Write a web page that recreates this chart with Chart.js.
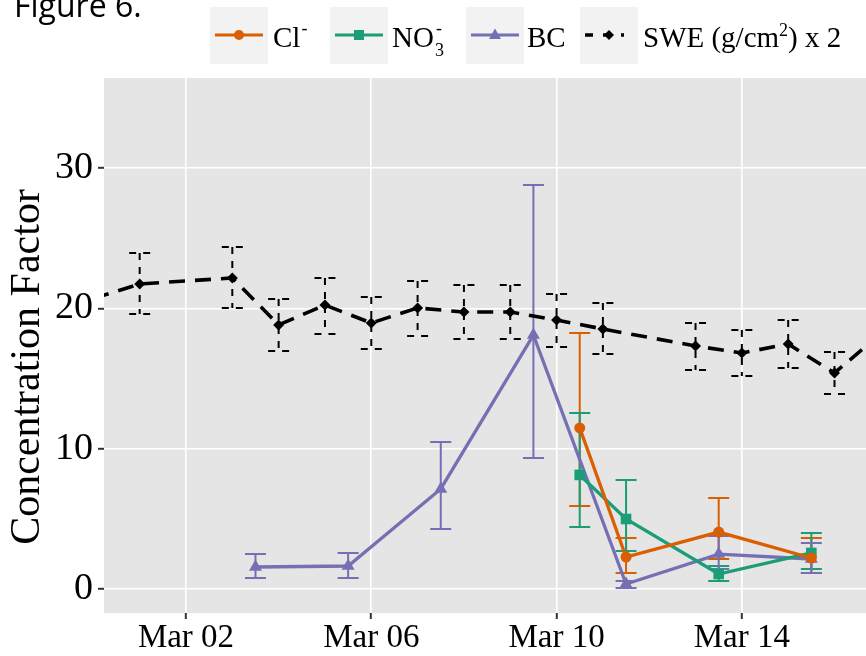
<!DOCTYPE html>
<html>
<head>
<meta charset="utf-8">
<script src="https://cdn.jsdelivr.net/npm/chart.js@4/dist/chart.umd.min.js"></script>
<style>
html, body { margin: 0; padding: 0; background: #fff; }
#wrap { width: 866px; height: 656px; position: relative; }
</style>
</head>
<body>
<div id="wrap"><canvas id="chart" width="866" height="656"></canvas></div>
<script>
// x values are March dates (1 = Mar 01), snow chemistry sampled at mid-day
const tickDays = [2, 6, 10, 14];
const yTicks = [0, 10, 20, 30];

const sweDays = [0, 1, 3, 4, 5, 6, 7, 8, 9, 10, 11, 13, 14, 15, 16, 17];
const sweVals = [20.7, 21.74, 22.17, 18.82, 20.24, 18.96, 20.03, 19.74, 19.74, 19.17, 18.53, 17.32, 16.82, 17.46, 15.40, 18.2];
const sweHi = [null, 23.95, 24.38, 20.67, 22.17, 20.81, 21.95, 21.67, 21.67, 21.03, 20.38, 18.96, 18.46, 19.17, 16.89, null];
const sweLo = [null, 19.60, 20.03, 16.96, 18.18, 17.11, 18.03, 17.82, 17.82, 17.25, 16.75, 15.61, 15.18, 15.75, 13.90, null];

const bcDays = [3.5, 5.5, 7.5, 9.5, 11.5, 13.5, 15.5];
const bcVals = [1.57, 1.64, 7.13, 18.10, 0.36, 2.49, 2.14];
const bcHi = [2.49, 2.57, 10.48, 28.80, 0.57, 3.78, 3.28];
const bcLo = [0.78, 0.78, 4.28, 9.34, 0.07, 1.43, 1.14];

const chemDays = [10.5, 11.5, 13.5, 15.5];
const clVals = [11.48, 2.28, 4.06, 2.21];
const clHi = [18.25, 3.64, 6.49, 3.64];
const clLo = [5.92, 1.14, 2.14, 1.14];
const no3Vals = [8.13, 4.99, 1.07, 2.57];
const no3Hi = [12.54, 7.77, 1.64, 3.99];
const no3Lo = [4.42, 2.71, 0.57, 1.43];

const ORANGE = '#D95F02', GREEN = '#1B9E77', PURPLE = '#7570B3';
const SERIF = '"Liberation Serif", "Times New Roman", serif';

const pts = (xs, ys) => xs.map((x, i) => ({ x: x, y: ys[i] }));

// panel background like ggplot
const panelBg = {
  id: 'panelBg',
  beforeDraw(chart) {
    const { ctx, chartArea: a } = chart;
    ctx.save();
    ctx.fillStyle = '#E5E5E5';
    ctx.fillRect(a.left, a.top, a.right - a.left, a.bottom - a.top);
    ctx.restore();
  }
};

// vertical error bars with caps, read from dataset.errHi / errLo
const errorBars = {
  id: 'errorBars',
  beforeDatasetsDraw(chart) {
    const { ctx, chartArea: a, scales } = chart;
    ctx.save();
    ctx.beginPath();
    ctx.rect(a.left, a.top, a.right - a.left, a.bottom - a.top);
    ctx.clip();
    chart.data.datasets.forEach(ds => {
      if (!ds.errHi) return;
      ctx.strokeStyle = ds.borderColor;
      ctx.lineWidth = 2;
      ctx.setLineDash(ds.errDash || []);
      ds.data.forEach((p, i) => {
        const hi = ds.errHi[i], lo = ds.errLo[i];
        if (hi == null) return;
        const x = scales.x.getPixelForValue(p.x);
        const y1 = scales.y.getPixelForValue(hi);
        const y2 = scales.y.getPixelForValue(lo);
        const w = 10.5;
        ctx.beginPath();
        ctx.moveTo(x, y1); ctx.lineTo(x, y2);
        ctx.moveTo(x - w, y1); ctx.lineTo(x + w, y1);
        ctx.moveTo(x - w, y2); ctx.lineTo(x + w, y2);
        ctx.stroke();
      });
    });
    ctx.restore();
  }
};

function drawMarker(ctx, style, x, y, color) {
  ctx.fillStyle = color;
  ctx.beginPath();
  if (style === 'circle') {
    ctx.arc(x, y, 5, 0, Math.PI * 2);
  } else if (style === 'rect') {
    ctx.rect(x - 5, y - 5, 10, 10);
  } else if (style === 'triangle') {
    ctx.moveTo(x, y - 6.5); ctx.lineTo(x + 6, y + 4); ctx.lineTo(x - 6, y + 4); ctx.closePath();
  } else {
    ctx.moveTo(x, y - 5); ctx.lineTo(x + 5, y); ctx.lineTo(x, y + 5); ctx.lineTo(x - 5, y); ctx.closePath();
  }
  ctx.fill();
}

// legend on top, figure label and the y axis title
const annotations = {
  id: 'annotations',
  afterDraw(chart) {
    const ctx = chart.ctx;
    ctx.save();
    ctx.fillStyle = '#000';
    ctx.font = '32px "Open Sans", sans-serif';
    ctx.textBaseline = 'alphabetic';
    ctx.fillText('Figure 6.', 14, 17);

    const keys = [
      { x: 210, color: ORANGE, style: 'circle' },
      { x: 330, color: GREEN, style: 'rect' },
      { x: 466, color: PURPLE, style: 'triangle' },
      { x: 580, color: '#000', style: 'diamond', dash: true }
    ];
    const ky = 35, base = 47;
    keys.forEach(k => {
      ctx.fillStyle = '#F2F2F2';
      ctx.fillRect(k.x, 7, 58, 57);
      ctx.strokeStyle = k.color;
      ctx.lineWidth = k.dash ? 3.5 : 3.2;
      ctx.setLineDash(k.dash ? [8, 10] : []);
      ctx.beginPath();
      ctx.moveTo(k.x + 5, ky);
      ctx.lineTo(k.x + (k.dash ? 44 : 53), ky);
      ctx.stroke();
      ctx.setLineDash([]);
      drawMarker(ctx, k.style, k.x + 29, ky, k.color);
    });

    const big = '29px ' + SERIF, small = '18px ' + SERIF;
    ctx.fillStyle = '#000';
    let x;
    // Cl-
    ctx.font = big; ctx.fillText('Cl', 273, base);
    x = 273 + ctx.measureText('Cl').width + 1;
    ctx.font = small; ctx.fillText('-', x, base - 13);
    // NO3-
    ctx.font = big; ctx.fillText('NO', 392, base);
    x = 392 + ctx.measureText('NO').width + 1;
    ctx.font = small; ctx.fillText('3', x, base + 9); ctx.fillText('-', x + 1, base - 13);
    // BC
    ctx.font = big; ctx.fillText('BC', 527, base);
    // SWE (g/cm2) x 2
    ctx.font = big; ctx.fillText('SWE (g/cm', 643, base);
    x = 643 + ctx.measureText('SWE (g/cm').width;
    ctx.font = small; ctx.fillText('2', x, base - 11);
    x += ctx.measureText('2').width;
    ctx.font = big; ctx.fillText(') x 2', x, base);

    // y axis title
    ctx.translate(28, 367);
    ctx.rotate(-Math.PI / 2);
    ctx.font = '42px ' + SERIF;
    ctx.textAlign = 'center';
    ctx.textBaseline = 'middle';
    ctx.fillText('Concentration Factor', 0, 0);
    ctx.restore();
  }
};

const ctx = document.getElementById('chart').getContext('2d');
new Chart(ctx, {
  type: 'line',
  data: {
    datasets: [
      {
        label: 'Cl-', data: pts(chemDays, clVals), errHi: clHi, errLo: clLo,
        borderColor: ORANGE, backgroundColor: ORANGE, borderWidth: 3.3,
        pointStyle: 'circle', pointRadius: 5.5, pointBorderWidth: 0
      },
      {
        label: 'NO3-', data: pts(chemDays, no3Vals), errHi: no3Hi, errLo: no3Lo,
        borderColor: GREEN, backgroundColor: GREEN, borderWidth: 3.3,
        pointStyle: 'rect', pointRadius: 7.5, pointBorderWidth: 0
      },
      {
        label: 'BC', data: pts(bcDays, bcVals), errHi: bcHi, errLo: bcLo,
        borderColor: PURPLE, backgroundColor: PURPLE, borderWidth: 3.3,
        pointStyle: 'triangle', pointRadius: 7.5, pointBorderWidth: 0
      },
      {
        label: 'SWE (g/cm2) x 2', data: pts(sweDays, sweVals), errHi: sweHi, errLo: sweLo,
        errDash: [7, 7],
        borderColor: '#000', backgroundColor: '#000', borderWidth: 3.6, borderDash: [16, 10],
        pointStyle: 'rectRot', pointRadius: 5.5, pointBorderWidth: 0
      }
    ]
  },
  options: {
    responsive: false,
    animation: false,
    events: [],
    layout: { autoPadding: false, padding: { top: 78, left: 0, right: 0, bottom: 0 } },
    plugins: { legend: { display: false }, tooltip: { enabled: false } },
    scales: {
      x: {
        type: 'linear', min: 0.23, max: 16.68,
        afterBuildTicks: s => { s.ticks = tickDays.map(v => ({ value: v })); },
        afterFit: s => { s.height = 43; s.paddingLeft = 0; s.paddingRight = 0; },
        grid: { color: '#FFFFFF', lineWidth: 1.6, tickColor: '#333', tickLength: 6, tickWidth: 2 },
        border: { display: false },
        ticks: {
          color: '#000', font: { family: SERIF, size: 33 }, padding: 0,
          maxRotation: 0, autoSkip: false,
          callback: v => 'Mar ' + String(v).padStart(2, '0')
        }
      },
      y: {
        min: -1.71, max: 36.42,
        afterBuildTicks: s => { s.ticks = yTicks.map(v => ({ value: v })); },
        afterFit: s => { s.width = 104; s.paddingTop = 0; s.paddingBottom = 0; },
        grid: { color: '#FFFFFF', lineWidth: 1.6, tickColor: '#333', tickLength: 6, tickWidth: 2 },
        border: { display: false },
        ticks: { color: '#000', font: { family: SERIF, size: 38 }, padding: 5 }
      }
    }
  },
  plugins: [panelBg, errorBars, annotations]
});
</script>
</body>
</html>
